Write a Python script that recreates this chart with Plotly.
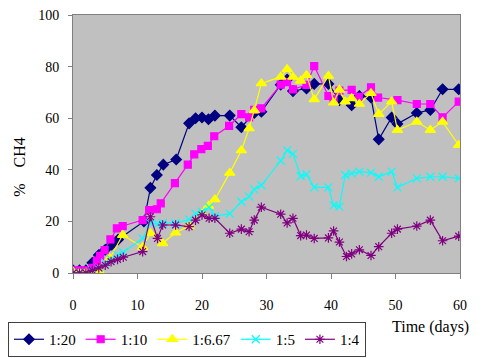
import plotly.graph_objects as go

# ---- data ----
names = ["1:20", "1:10", "1:6.67", "1:5", "1:4"]

days_120 = [0, 1, 2, 3, 4, 5, 6, 7, 11, 12, 13, 14, 16, 18, 19, 20, 21, 22, 24.3, 26.1, 28.1, 29.2,
            32.2, 33.2, 34.1, 36.2, 37.4, 39.6, 41.3, 43.2, 44.4, 46.2, 47.4, 49.4, 50.3, 53.3, 55.4, 57.3, 59.8]
ch4_120 = [1, 1, 1, 4, 7, 9, 11, 13, 20, 33, 38, 42, 44, 58, 60, 60.3, 59.6, 61, 61, 56.5, 62, 62.5,
           73, 75, 70.5, 71.5, 73.3, 73.3, 67, 65, 68.6, 68, 51.8, 60.3, 57.8, 62, 63.2, 71.2, 71.2]

days_110 = [0, 1, 2, 3, 3.7, 4.2, 4.9, 5.8, 6.8, 7.7, 10.8, 11.8, 13, 13.6, 15.8, 17.8, 18.8, 19.9, 20.9,
            21.9, 24.2, 26.1, 27.3, 28.1, 29.2, 32.2, 33.2, 34.1, 36.2, 37.4, 39.6, 40.4, 41.3, 43.2, 44.3,
            46.2, 47.3, 50.3, 53.3, 55.4, 57.3, 59.8]
ch4_110 = [1, 1, 1, 2, 4.8, 6.6, 8.9, 13, 17.3, 18.2, 20.5, 24.4, 24.7, 27, 34.8, 42, 46, 48, 49.3,
           53, 57, 61.6, 60.3, 63.2, 63.8, 73, 74, 71.2, 72.9, 80.2, 68.6, 67.3, 70.7, 71, 68.3,
           72, 68, 67, 65.5, 65.5, 60.3, 66.4]

days_1667 = [0, 1, 2, 3, 4, 5.7, 7.7, 10.8, 12, 13.9, 15.9, 18, 20, 21, 22, 24.3, 26.1, 27.3, 28.1, 29.2,
             32.2, 33.2, 34.1, 35.3, 36.2, 37.4, 39.6, 40.4, 41.3, 42.2, 43.2, 44.4, 46.2, 47.4, 49.4,
             50.3, 53.3, 55.4, 57.3, 59.8]
ch4_1667 = [0.5, 0, 0, 0, 1, 5.7, 14.7, 10, 15.4, 11.5, 15.6, 18.2, 23, 26, 28.5, 38.8, 47.5, 56, 63, 73.5,
            76, 79, 76, 74.5, 76.7, 67.3, 76.4, 66, 71, 66.4, 67.7, 65.5, 69.7, 61.6, 66.4,
            55.4, 58.6, 55.4, 58.6, 49.6]

days_15 = [0, 1, 2, 3, 4, 5, 5.9, 6.9, 7.8, 10.8, 12, 13.1, 13.9, 15.9, 18, 19, 20, 21.1, 22, 24.3, 26.1,
           27.3, 28.1, 29.2, 32.2, 33.2, 34.1, 35.3, 36.2, 37.4, 39.6, 40.4, 41.3, 42.2, 43.2, 44.4, 46.2,
           47.4, 49.4, 50.3, 53.3, 55.4, 57.3, 59.8]
ch4_15 = [0, 0, 0, 1, 2, 4, 5.3, 7, 8, 13.4, 19.3, 19, 19.3, 19.3, 20.8, 23, 23.8, 25.5, 22, 23, 27.6,
          29.6, 32.4, 34, 43.5, 47.5, 46.2, 37.5, 38.2, 33.2, 33.2, 26.2, 25.7, 38, 38.6, 39.3, 38.9,
          37.3, 39.3, 33.2, 36.7, 37.3, 37.3, 36.7]

days_14 = [0, 1, 2, 3, 4, 5, 5.9, 6.9, 7.8, 10.8, 12, 13.1, 13.9, 15.9, 18, 19, 20, 21.1, 22, 24.3, 26.1,
           27.3, 28.1, 29.2, 32.2, 33.2, 34.1, 35.3, 36.2, 37.4, 39.6, 40.4, 41.3, 42.4, 43.2, 44.4, 46.2,
           47.4, 49.4, 50.3, 53.3, 55.4, 57.3, 59.8]
ch4_14 = [0, 0, 0, 1, 2, 3, 4.4, 5.3, 6.1, 8.3, 21.8, 13.4, 18.6, 18.6, 18, 20.5, 22.5, 21.2, 21.2, 15.4,
          17, 16, 20.5, 25.5, 22.8, 19.4, 21.2, 14.5, 14.7, 13.4, 13.6, 16.3, 12, 6.4, 7.4, 9, 6.8,
          10.2, 15.4, 17, 18.2, 20.5, 12.5, 14.3]

x_ticks = [0, 10, 20, 30, 40, 50, 60]
y_ticks = [0, 20, 40, 60, 80, 100]

series = [
    (names[0], days_120, ch4_120, "#000080", "diamond", 8),
    (names[1], days_110, ch4_110, "#FF00FF", "square", 7),
    (names[2], days_1667, ch4_1667, "#FFFF00", "triangle-up", 9),
    (names[3], days_15, ch4_15, "#00FFFF", "x-thin-open", 8),
    (names[4], days_14, ch4_14, "#800080", "asterisk-open", 8),
]

FONT = "Liberation Serif"

fig = go.Figure()
for name, xs, ys, color, sym, size in series:
    fig.add_trace(go.Scatter(
        x=xs, y=ys, name=name, mode="lines+markers",
        line=dict(color=color, width=1.2),
        marker=dict(symbol=sym, size=size, color=color, line=dict(color=color, width=1.2)),
    ))

fig.update_layout(
    width=491, height=358,
    margin=dict(l=73, r=31, t=15, b=85, autoexpand=False),
    paper_bgcolor="white",
    plot_bgcolor="#C0C0C0",
    font=dict(family=FONT, size=14, color="black"),
    showlegend=True,
    legend=dict(
        orientation="h",
        x=-0.168, y=-0.19, xanchor="left", yanchor="top",
        bordercolor="#404040", borderwidth=1,
        font=dict(family=FONT, size=15),
        itemwidth=30, tracegroupgap=0,
    ),
    xaxis=dict(
        range=[0, 60], tickvals=x_ticks, ticks="outside", ticklen=5,
        tickcolor="#808080", showgrid=False, zeroline=False, automargin=False,
        showline=True, linecolor="#808080", linewidth=1, mirror=True,
        ticklabelstandoff=14, tickfont=dict(size=14),
    ),
    yaxis=dict(
        range=[0, 100], tickvals=y_ticks, ticks="outside", ticklen=4,
        tickcolor="#808080", showgrid=False, zeroline=False, automargin=False,
        showline=True, linecolor="#808080", linewidth=1, mirror=True,
        ticklabelstandoff=6, tickfont=dict(size=14),
    ),
    annotations=[
        dict(text="Time (days)", xref="paper", yref="paper", x=0.925, y=-0.21,
             xanchor="center", yanchor="middle", showarrow=False,
             font=dict(family=FONT, size=16)),
        dict(text="%\u00a0\u00a0\u00a0\u00a0CH4", xref="paper", yref="paper", x=-0.138, y=0.41,
             xanchor="center", yanchor="middle", showarrow=False, textangle=-90,
             font=dict(family=FONT, size=16)),
    ],
)

fig.write_html(
    "out.html",
    config={"displayModeBar": False},
    post_script="document.body.style.margin='0';document.body.style.padding='0';",
)
